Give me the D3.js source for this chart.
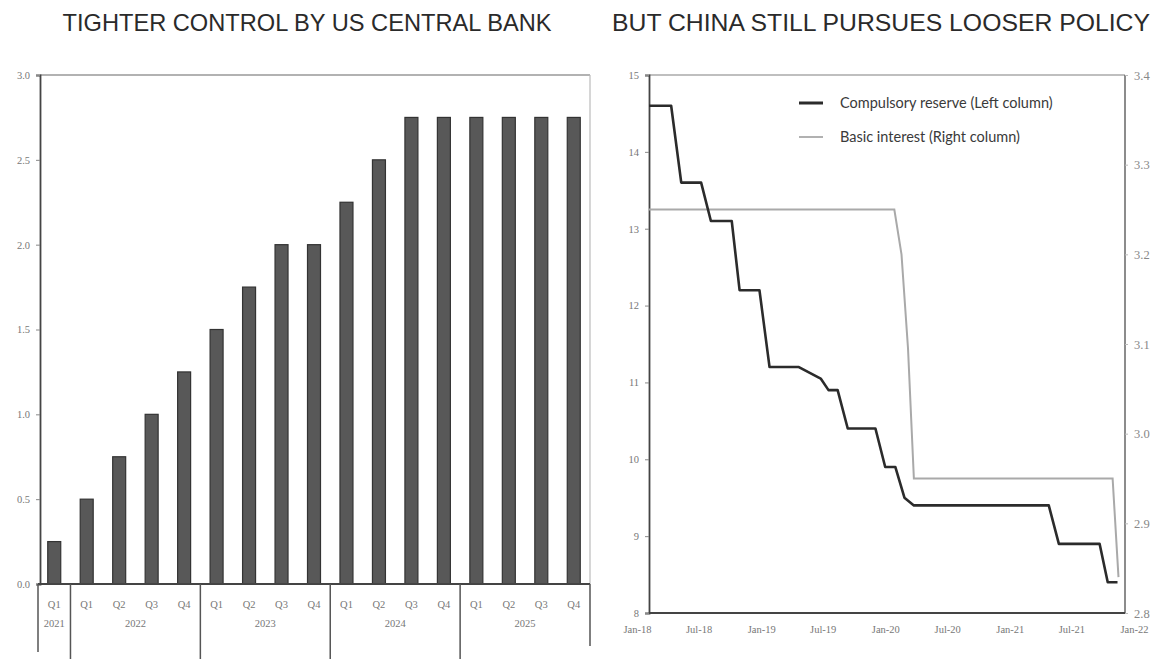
<!DOCTYPE html>
<html>
<head>
<meta charset="utf-8">
<script src="https://cdn.jsdelivr.net/npm/d3@7"></script>
<style>
  html, body { margin: 0; padding: 0; background: #fff; }
  svg { display: block; }
</style>
</head>
<body>
<svg id="chart" width="1163" height="659"></svg>
<script>
// ---------- DATA ----------
const titles = ["TIGHTER CONTROL BY US CENTRAL BANK", "BUT CHINA STILL PURSUES LOOSER POLICY"];

// Left chart: US policy rate path by quarter
const quarters = ["Q1","Q1","Q2","Q3","Q4","Q1","Q2","Q3","Q4","Q1","Q2","Q3","Q4","Q1","Q2","Q3","Q4"];
const yearGroups = ["2021","2022","2023","2024","2025"];
const yearSizes = [1, 4, 4, 4, 4];
const usRate = [0.25,0.5,0.75,1.0,1.25,1.5,1.75,2.0,2.0,2.25,2.5,2.75,2.75,2.75,2.75,2.75,2.75];
const leftTicks = [0.0,0.5,1.0,1.5,2.0,2.5,3.0];

// Right chart: China reserve requirement (left axis) and basic interest (right axis)
const reserveDates = ["2018-01-01","2018-03-10","2018-04-10","2018-06-10","2018-07-10","2018-09-12",
  "2018-10-06","2018-12-06","2019-01-06","2019-04-06","2019-06-12","2019-07-06","2019-08-03",
  "2019-09-03","2019-11-27","2019-12-27","2020-01-27","2020-02-24","2020-03-24","2021-05-12",
  "2021-06-12","2021-10-15","2021-11-09","2021-12-09"];
const reserveValues = [14.6,14.6,13.6,13.6,13.1,13.1,12.2,12.2,11.2,11.2,11.05,10.9,10.9,
  10.4,10.4,9.9,9.9,9.5,9.4,9.4,8.9,8.9,8.4,8.4];
const interestDates = ["2018-01-01","2020-01-24","2020-02-15","2020-03-06","2020-03-24","2021-11-24","2021-12-12"];
const interestValues = [3.25,3.25,3.2,3.095,2.95,2.95,2.84];
const reserveTicks = [8,9,10,11,12,13,14,15];
const interestTicks = [2.8,2.9,3.0,3.1,3.2,3.3,3.4];
const legendLabels = ["Compulsory reserve (Left column)", "Basic interest (Right column)"];

// ---------- DRAW ----------
const svg = d3.select("#chart");
const parse = d3.timeParse("%Y-%m-%d");

// Titles
svg.append("text").attr("x", 307).attr("y", 31).attr("text-anchor", "middle")
  .attr("font-family", "Liberation Sans, Arial, sans-serif").attr("font-size", 24)
  .attr("fill", "#2a2a2a").attr("textLength", 489).attr("lengthAdjust", "spacingAndGlyphs")
  .text(titles[0]);
svg.append("text").attr("x", 881).attr("y", 31).attr("text-anchor", "middle")
  .attr("font-family", "Liberation Sans, Arial, sans-serif").attr("font-size", 24)
  .attr("fill", "#2a2a2a").attr("textLength", 538).attr("lengthAdjust", "spacingAndGlyphs")
  .text(titles[1]);

// ===== Left chart =====
const L = { left: 38, right: 590, top: 75, bottom: 584, axisX: 40 };
const xB = d3.scaleBand().domain(d3.range(usRate.length)).range([L.left, L.right])
  .paddingInner(0.6).paddingOuter(0.3);
const yL = d3.scaleLinear().domain([0, 3]).range([L.bottom, L.top]);

const gL = svg.append("g");
// frame
gL.append("line").attr("x1", L.axisX).attr("x2", L.right).attr("y1", L.top).attr("y2", L.top)
  .attr("stroke", "#999").attr("stroke-width", 1.5);
gL.append("line").attr("x1", L.right).attr("x2", L.right).attr("y1", L.top).attr("y2", L.bottom)
  .attr("stroke", "#bbb").attr("stroke-width", 1.2);

// bars
gL.selectAll("rect.bar").data(usRate).join("rect").attr("class", "bar")
  .attr("x", (d, i) => xB(i)).attr("width", xB.bandwidth())
  .attr("y", d => yL(d)).attr("height", d => yL(0) - yL(d))
  .attr("fill", "#585858").attr("stroke", "#333").attr("stroke-width", 1.2);

// y axis
const axL = d3.axisLeft(yL).tickValues(leftTicks).tickFormat(d3.format(".1f")).tickSize(4).tickPadding(6);
const gAxL = gL.append("g").attr("transform", `translate(${L.axisX},0)`).call(axL);
gAxL.select(".domain").attr("stroke", "#444").attr("stroke-width", 1.8);
gAxL.selectAll(".tick line").attr("stroke", "#888");
gAxL.selectAll(".tick text").attr("font-family", "Liberation Serif, serif").attr("font-size", 10.5)
  .attr("fill", "#777");

// baseline
gL.append("line").attr("x1", L.left).attr("x2", L.right).attr("y1", L.bottom).attr("y2", L.bottom)
  .attr("stroke", "#444").attr("stroke-width", 1.8);

// quarter labels
gL.selectAll("text.q").data(quarters).join("text").attr("class", "q")
  .attr("x", (d, i) => xB(i) + xB.bandwidth() / 2).attr("y", 608).attr("text-anchor", "middle")
  .attr("font-family", "Liberation Serif, serif").attr("font-size", 10.5).attr("fill", "#777")
  .text(d => d);

// year groups
let startIdx = 0;
const step = xB.step();
const groupBounds = yearSizes.map(s => { const a = startIdx; startIdx += s; return [a, startIdx]; });
const xEdge = i => L.left + i * step;
gL.selectAll("text.yr").data(yearGroups).join("text").attr("class", "yr")
  .attr("x", (d, i) => (xEdge(groupBounds[i][0]) + xEdge(groupBounds[i][1])) / 2)
  .attr("y", 627).attr("text-anchor", "middle")
  .attr("font-family", "Liberation Serif, serif").attr("font-size", 10.5).attr("fill", "#777")
  .text(d => d);
// separators
const sepIdx = [0].concat(groupBounds.map(b => b[1]));
gL.selectAll("line.sep").data(sepIdx).join("line").attr("class", "sep")
  .attr("x1", d => xEdge(d)).attr("x2", d => xEdge(d))
  .attr("y1", L.bottom).attr("y2", (d, i) => i === 0 ? 652 : (i === sepIdx.length - 1 ? 646 : 659))
  .attr("stroke", "#555").attr("stroke-width", 1.5);

// ===== Right chart =====
const R = { left: 649, right: 1125, top: 75, bottom: 613 };
const xT = d3.scaleTime().domain([parse("2018-01-01"), parse("2022-01-01")]).range([R.left, R.right]);
// the scanned original spreads its date labels a little wider than the plot
const xLab = d3.scaleTime().domain(xT.domain()).range([637, 1134]);
const yRes = d3.scaleLinear().domain([8, 15]).range([R.bottom, R.top]);
const yInt = d3.scaleLinear().domain([2.8, 3.4]).range([R.bottom, R.top]);

const gR = svg.append("g");
// frame
gR.append("line").attr("x1", R.left).attr("x2", R.right).attr("y1", R.top).attr("y2", R.top)
  .attr("stroke", "#aaa").attr("stroke-width", 1.5);
gR.append("line").attr("x1", R.right).attr("x2", R.right).attr("y1", R.top).attr("y2", R.bottom)
  .attr("stroke", "#666").attr("stroke-width", 1.5);

// left axis
const axR1 = d3.axisLeft(yRes).tickValues(reserveTicks).tickFormat(d3.format("d")).tickSize(4).tickPadding(6);
const gA1 = gR.append("g").attr("transform", `translate(${R.left},0)`).call(axR1);
gA1.select(".domain").attr("stroke", "#444").attr("stroke-width", 1.8);
gA1.selectAll(".tick line").attr("stroke", "#888");
gA1.selectAll(".tick text").attr("font-family", "Liberation Serif, serif").attr("font-size", 10.5)
  .attr("fill", "#777");

// right axis
const axR2 = d3.axisRight(yInt).tickValues(interestTicks).tickFormat(d3.format(".1f")).tickSize(3).tickPadding(6);
const gA2 = gR.append("g").attr("transform", `translate(${R.right},0)`).call(axR2);
gA2.select(".domain").remove();
gA2.selectAll(".tick line").attr("stroke", "#bbb");
gA2.selectAll(".tick text").attr("font-family", "Liberation Serif, serif").attr("font-size", 12.5)
  .attr("fill", "#888");

// bottom axis
gR.append("line").attr("x1", R.left).attr("x2", R.right).attr("y1", R.bottom).attr("y2", R.bottom)
  .attr("stroke", "#444").attr("stroke-width", 2);
const axB = d3.axisBottom(xLab).ticks(d3.timeMonth.every(6)).tickFormat(d3.timeFormat("%b-%y")).tickSize(0).tickPadding(13);
const gA3 = gR.append("g").attr("transform", `translate(0,${R.bottom})`).call(axB);
gA3.select(".domain").remove();
gA3.selectAll(".tick text").attr("font-family", "Liberation Serif, serif").attr("font-size", 10.5)
  .attr("fill", "#777");

// lines
const resData = reserveDates.map((d, i) => ({ date: parse(d), v: reserveValues[i] }));
const intData = interestDates.map((d, i) => ({ date: parse(d), v: interestValues[i] }));

gR.append("path").datum(intData)
  .attr("d", d3.line().x(d => xT(d.date)).y(d => yInt(d.v)))
  .attr("fill", "none").attr("stroke", "#a9a9a9").attr("stroke-width", 2);
gR.append("path").datum(resData)
  .attr("d", d3.line().x(d => xT(d.date)).y(d => yRes(d.v)))
  .attr("fill", "none").attr("stroke", "#2b2b2b").attr("stroke-width", 2.6).attr("stroke-linejoin", "round");

// legend
const legend = gR.append("g");
const legendColors = ["#2b2b2b", "#a9a9a9"];
const legendWidths = [3, 1.8];
legendLabels.forEach((lab, i) => {
  const y = 103 + i * 34;
  legend.append("line").attr("x1", 799).attr("x2", 823).attr("y1", y).attr("y2", y)
    .attr("stroke", legendColors[i]).attr("stroke-width", legendWidths[i]);
  legend.append("text").attr("x", 840).attr("y", y + 5)
    .attr("font-family", "Lato, Open Sans, sans-serif").attr("font-size", 14.5).attr("fill", "#3a3a3a")
    .text(lab);
});
</script>
</body>
</html>
